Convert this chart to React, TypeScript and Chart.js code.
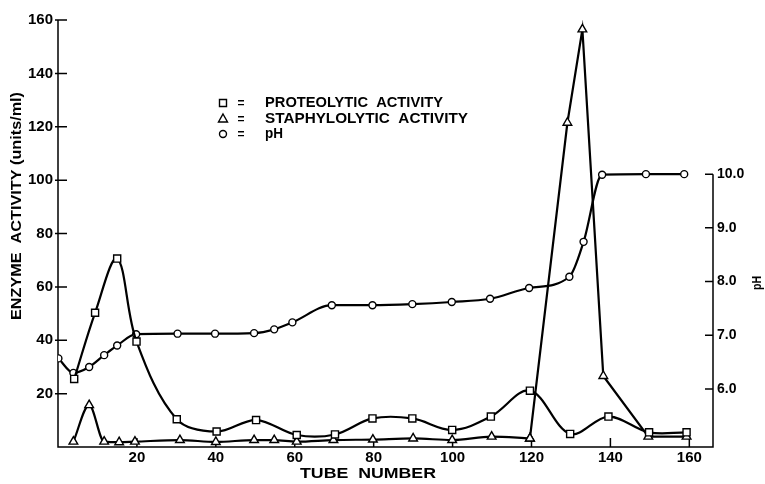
import React, { useEffect, useRef } from "react";
import { Chart, registerables } from "chart.js";

Chart.register(...registerables);

// ---- data ----
const tubeTicks = [20, 40, 60, 80, 100, 120, 140, 160];
const activityTicks = [20, 40, 60, 80, 100, 120, 140, 160];
const phTicks = [6, 7, 8, 9, 10];

const proteoTube = [4.1, 9.4, 15.0, 19.9, 30.1, 40.2, 50.2, 60.5, 70.2, 79.7, 89.8, 99.9, 109.7, 119.6, 129.8, 139.5, 149.8, 159.3];
const proteoActivity = [25.5, 50.3, 70.6, 39.5, 10.4, 5.8, 10.1, 4.5, 4.7, 10.7, 10.7, 6.4, 11.4, 21.1, 4.9, 11.4, 5.5, 5.5];

const staphTube = [3.9, 7.9, 11.7, 15.5, 19.5, 30.9, 40.0, 49.7, 54.8, 60.5, 69.8, 79.8, 90.0, 99.9, 109.9, 119.6, 129.1, 132.9, 138.2, 149.6, 159.3];
const staphActivity = [2, 15.7, 2, 1.8, 2, 2.6, 1.9, 2.6, 2.6, 2, 2.6, 2.8, 3.2, 2.6, 3.9, 3.2, 121.5, 156.5, 26.6, 3.9, 3.9];

const phTube = [0.1, 3.9, 7.9, 11.7, 15.0, 19.8, 30.3, 39.8, 49.7, 54.8, 59.4, 69.4, 79.7, 89.8, 99.8, 109.5, 119.4, 129.6, 133.2, 137.9, 149.0, 158.7];
const phValue = [6.57, 6.3, 6.41, 6.63, 6.81, 7.02, 7.03, 7.03, 7.04, 7.11, 7.24, 7.56, 7.56, 7.58, 7.62, 7.68, 7.88, 8.09, 8.74, 9.99, 10.0, 10.0];

const legendLabels = ["PROTEOLYTIC  ACTIVITY", "STAPHYLOLYTIC  ACTIVITY", "pH"];
const yTitle = "ENZYME  ACTIVITY (units/ml)";
const xTitle = "TUBE  NUMBER";
const y1Title = "pH";

const FONT = "'Liberation Sans', Arial, Helvetica, sans-serif";

function fitText(ctx: CanvasRenderingContext2D, text: string, x: number, y: number, width: number, size: number, rot: number, align: CanvasTextAlign) {
  ctx.save();
  ctx.font = `bold ${size}px ${FONT}`;
  const w = ctx.measureText(text).width;
  ctx.translate(x, y);
  ctx.rotate(rot);
  ctx.scale(width / w, 1);
  ctx.textAlign = align;
  ctx.textBaseline = "middle";
  ctx.fillStyle = "#000";
  ctx.fillText(text, 0, 0);
  ctx.restore();
}

function marker(ctx: CanvasRenderingContext2D, kind: string, x: number, y: number) {
  ctx.save();
  ctx.fillStyle = "#fff";
  ctx.strokeStyle = "#000";
  ctx.lineWidth = 1.4;
  ctx.beginPath();
  if (kind === "rect") {
    ctx.rect(x - 3.5, y - 3.5, 7, 7);
  } else if (kind === "triangle") {
    ctx.moveTo(x, y - 5);
    ctx.lineTo(x + 4.5, y + 3);
    ctx.lineTo(x - 4.5, y + 3);
    ctx.closePath();
  } else {
    ctx.arc(x, y, 3.5, 0, Math.PI * 2);
  }
  ctx.fill();
  ctx.stroke();
  ctx.restore();
}

const axesPlugin = {
  id: "oldAxes",
  beforeDatasetsDraw(chart: any) {
    const { ctx, chartArea: a, scales } = chart;
    ctx.save();
    ctx.strokeStyle = "#000";
    ctx.lineWidth = 1.5;
    ctx.beginPath();
    ctx.moveTo(a.left, a.top);
    ctx.lineTo(a.left, a.bottom);
    ctx.lineTo(a.right, a.bottom);
    ctx.lineTo(a.right, scales.y1.getPixelForValue(phTicks[phTicks.length - 1]));
    for (const v of activityTicks) {
      const y = scales.y.getPixelForValue(v);
      ctx.moveTo(a.left - 3, y);
      ctx.lineTo(a.left + 9, y);
    }
    for (const v of tubeTicks) {
      const x = scales.x.getPixelForValue(v);
      ctx.moveTo(x, a.bottom);
      ctx.lineTo(x, a.bottom - 9);
    }
    for (const v of phTicks) {
      const y = scales.y1.getPixelForValue(v);
      ctx.moveTo(a.right - 8, y);
      ctx.lineTo(a.right, y);
    }
    ctx.stroke();
    ctx.restore();
  },
  afterDraw(chart: any) {
    const { ctx } = chart;
    fitText(ctx, yTitle, 17, 206, 228, 14, -Math.PI / 2, "center");
    fitText(ctx, xTitle, 368, 474, 136, 14, 0, "center");
    fitText(ctx, y1Title, 757, 283, 14, 13, -Math.PI / 2, "center");
    const rows = [103, 119, 134];
    const kinds = ["rect", "triangle", "circle"];
    const widths = [178, 203, 18];
    rows.forEach((y, i) => {
      marker(ctx, kinds[i], 223, y);
      fitText(ctx, "=", 241, y, 7, 13, 0, "center");
      fitText(ctx, legendLabels[i], 265, y, widths[i], 14, 0, "left");
    });
  },
};

const splitIdx = staphTube.findIndex((t) => t > 115);

export default function App() {
  const ref = useRef<HTMLCanvasElement | null>(null);
  useEffect(() => {
    if (!ref.current) return;
    const common = {
      borderColor: "#000",
      backgroundColor: "#fff",
      pointBackgroundColor: "#fff",
      pointBorderColor: "#000",
      pointBorderWidth: 1.4,
      borderWidth: 2.2,
      fill: false,
    };
    const tickFont = (size: number) => ({ family: FONT, size, weight: "bold" });
    const chart = new Chart(ref.current, {
      type: "line",
      data: {
        datasets: [
          {
            ...common,
            label: legendLabels[0],
            data: proteoTube.map((t, i) => ({ x: t, y: proteoActivity[i] })),
            pointStyle: "rect",
            pointRadius: 5,
            tension: 0.35,
            yAxisID: "y",
          },
          {
            ...common,
            label: legendLabels[1],
            data: staphTube.slice(0, splitIdx + 1).map((t, i) => ({ x: t, y: staphActivity[i] })),
            pointStyle: "triangle",
            pointRadius: 5,
            cubicInterpolationMode: "monotone",
            yAxisID: "y",
          },
          {
            ...common,
            label: legendLabels[1] + " (peak)",
            data: staphTube.slice(splitIdx).map((t, i) => ({ x: t, y: staphActivity[splitIdx + i] })),
            pointStyle: "triangle",
            pointRadius: 5,
            tension: 0,
            yAxisID: "y",
          },
          {
            ...common,
            label: legendLabels[2],
            data: phTube.map((t, i) => ({ x: t, y: phValue[i] })),
            pointStyle: "circle",
            pointRadius: 3.5,
            cubicInterpolationMode: "monotone",
            yAxisID: "y1",
          },
        ],
      },
      options: {
        animation: false,
        responsive: false,
        events: [],
        layout: { padding: { top: 20, left: 0, right: 0, bottom: 0 } },
        plugins: { legend: { display: false }, tooltip: { enabled: false } },
        scales: {
          x: {
            type: "linear",
            min: 0,
            max: 166,
            grid: { display: false, drawTicks: false },
            border: { display: false },
            ticks: { color: "#000", font: tickFont(15), padding: 2, autoSkip: false, maxRotation: 0 },
            afterBuildTicks: (s: any) => {
              s.ticks = tubeTicks.map((v) => ({ value: v }));
            },
            afterFit: (s: any) => {
              s.height = 37;
            },
          },
          y: {
            type: "linear",
            position: "left",
            min: 0,
            max: 160,
            grid: { display: false, drawTicks: false },
            border: { display: false },
            ticks: { color: "#000", font: tickFont(15), padding: 5, autoSkip: false },
            afterBuildTicks: (s: any) => {
              s.ticks = activityTicks.map((v) => ({ value: v }));
            },
            afterFit: (s: any) => {
              s.width = 58;
            },
          },
          y1: {
            type: "linear",
            position: "right",
            min: 4.92,
            max: 12.87,
            grid: { display: false, drawTicks: false },
            border: { display: false },
            ticks: {
              color: "#000",
              font: tickFont(14),
              padding: 4,
              autoSkip: false,
              callback: (v: any) => Number(v).toFixed(1),
            },
            afterBuildTicks: (s: any) => {
              s.ticks = phTicks.map((v) => ({ value: v }));
            },
            afterFit: (s: any) => {
              s.width = 52;
            },
          },
        },
      },
      plugins: [axesPlugin],
    } as any);
    return () => chart.destroy();
  }, []);
  return (
    <div style={{ position: "fixed", left: 0, top: 0, width: 765, height: 484, background: "#fff" }}>
      <canvas ref={ref} width={765} height={484} style={{ display: "block" }} />
    </div>
  );
}
